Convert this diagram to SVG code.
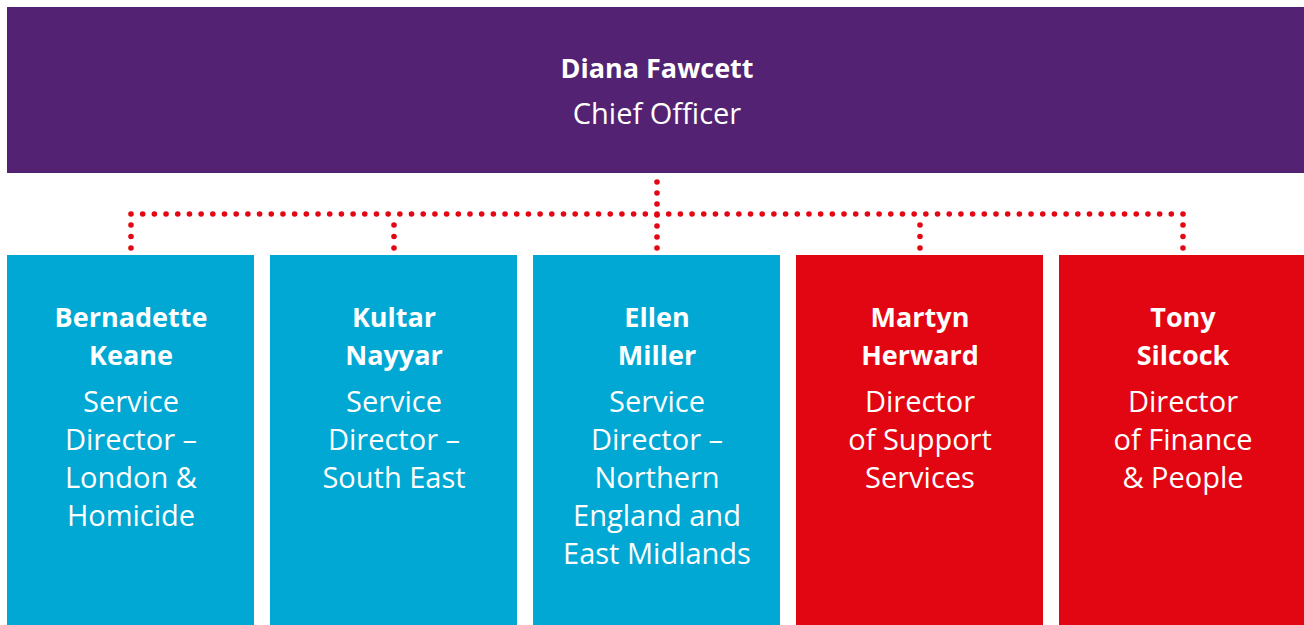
<svg xmlns="http://www.w3.org/2000/svg" width="1304" height="625" viewBox="0 0 1304 625">
<style>
.t{font-family:"Open Sans","Noto Sans","Liberation Sans",sans-serif;fill:#fff;text-anchor:middle}
.b{font-weight:700;font-size:27px}
.r{font-weight:400;font-size:29px}
.tb{font-weight:700;font-size:27px}
.tr{font-weight:400;font-size:29px}
.dot{fill:none;stroke:#e30613;stroke-width:5.6;stroke-linecap:round}
.blue{fill:#00a8d3}
.red{fill:#e20613}
</style>
<rect width="1304" height="625" fill="#fff"/>
<g id="connectors">
<path class="dot" d="M131 214 H1185" stroke-dasharray="0 11.689"/>
<path class="dot" d="M657 182 V250" stroke-dasharray="0 11"/>
<path class="dot" d="M131 225 V250 M394 225 V250 M920 225 V250 M1183 225 V250" stroke-dasharray="0 11.5"/>
</g>
<g id="diana">
<rect x="7" y="7" width="1297" height="166" fill="#532272"/>
<text class="t tb" x="657" y="78">Diana Fawcett</text>
<text class="t tr" x="657" y="124">Chief Officer</text>
</g>
<g id="bernadette">
<rect class="blue" x="7" y="255" width="247" height="370"/>
<text class="t b" x="131" y="327">Bernadette</text>
<text class="t b" x="131" y="365">Keane</text>
<text class="t r" x="131" y="412">Service</text>
<text class="t r" x="131" y="450">Director –</text>
<text class="t r" x="131" y="488">London &amp;</text>
<text class="t r" x="131" y="526">Homicide</text>
</g>
<g id="kultar">
<rect class="blue" x="270" y="255" width="247" height="370"/>
<text class="t b" x="394" y="327">Kultar</text>
<text class="t b" x="394" y="365">Nayyar</text>
<text class="t r" x="394" y="412">Service</text>
<text class="t r" x="394" y="450">Director –</text>
<text class="t r" x="394" y="488">South East</text>
</g>
<g id="ellen">
<rect class="blue" x="533" y="255" width="247" height="370"/>
<text class="t b" x="657" y="327">Ellen</text>
<text class="t b" x="657" y="365">Miller</text>
<text class="t r" x="657" y="412">Service</text>
<text class="t r" x="657" y="450">Director –</text>
<text class="t r" x="657" y="488">Northern</text>
<text class="t r" x="657" y="526">England and</text>
<text class="t r" x="657" y="564">East Midlands</text>
</g>
<g id="martyn">
<rect class="red" x="796" y="255" width="247" height="370"/>
<text class="t b" x="920" y="327">Martyn</text>
<text class="t b" x="920" y="365">Herward</text>
<text class="t r" x="920" y="412">Director</text>
<text class="t r" x="920" y="450">of Support</text>
<text class="t r" x="920" y="488">Services</text>
</g>
<g id="tony">
<rect class="red" x="1059" y="255" width="247" height="370"/>
<text class="t b" x="1183" y="327">Tony</text>
<text class="t b" x="1183" y="365">Silcock</text>
<text class="t r" x="1183" y="412">Director</text>
<text class="t r" x="1183" y="450">of Finance</text>
<text class="t r" x="1183" y="488">&amp; People</text>
</g>
</svg>
